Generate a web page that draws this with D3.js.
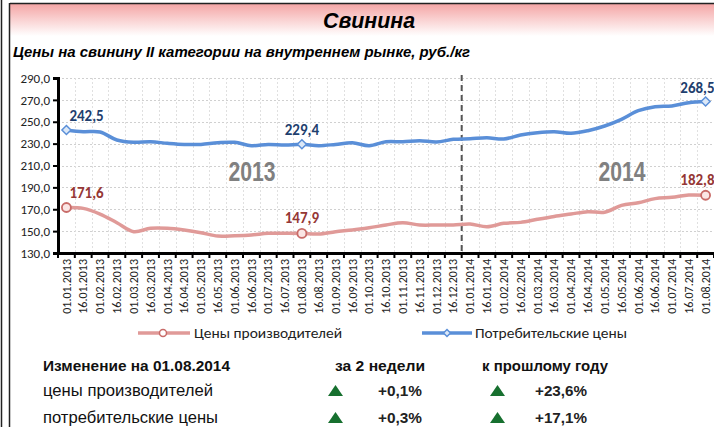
<!DOCTYPE html>
<html>
<head>
<meta charset="utf-8">
<script src="https://cdn.jsdelivr.net/npm/d3@7"></script>
<style>
  body { margin: 0; background: #fff; }
  svg { display: block; }
</style>
</head>
<body>
<div id="chart"></div>
<script>
var dates = [
  "01.01.2013", "16.01.2013", "01.02.2013", "16.02.2013", "01.03.2013", "16.03.2013",
  "01.04.2013", "16.04.2013", "01.05.2013", "16.05.2013", "01.06.2013", "16.06.2013",
  "01.07.2013", "16.07.2013", "01.08.2013", "16.08.2013", "01.09.2013", "16.09.2013",
  "01.10.2013", "16.10.2013", "01.11.2013", "16.11.2013", "01.12.2013", "16.12.2013",
  "01.01.2014", "16.01.2014", "01.02.2014", "16.02.2014", "01.03.2014", "16.03.2014",
  "01.04.2014", "16.04.2014", "01.05.2014", "16.05.2014", "01.06.2014", "16.06.2014",
  "01.07.2014", "16.07.2014", "01.08.2014"
];

// Цены производителей
var producer = [171.6, 170.8, 165.6, 157.7, 149.5, 152.6, 152.6, 151.0, 148.6, 145.5,
  145.8, 146.5, 148.0, 148.0, 147.9, 147.4, 149.5, 151.0, 153.1, 155.6,
  157.7, 155.6, 155.6, 155.6, 156.5, 154.0, 157.1, 158.0, 160.8, 163.4,
  165.6, 167.8, 167.2, 173.6, 176.0, 179.7, 180.9, 183.0, 182.8];

// Потребительские цены
var consumer = [242.5, 240.9, 240.6, 233.3, 231.2, 231.7, 230.3, 229.3, 229.3, 230.8,
  231.2, 228.1, 229.3, 228.7, 229.4, 228.1, 229.3, 230.8, 228.1, 231.7,
  231.7, 232.7, 231.5, 233.9, 234.5, 235.4, 234.2, 237.9, 240.0, 240.9,
  239.4, 241.8, 246.1, 252.2, 260.1, 263.7, 264.4, 267.4, 268.5];

var yTicks = [130, 150, 170, 190, 210, 230, 250, 270, 290];
var labelled = [0, 14, 38];   // точки с подписями
var yearLabels = [{text: "2013", at: "16.06.2013"}, {text: "2014", at: "16.05.2014"}];
var splitAfter = "16.12.2013";

var tableHead = ["Изменение на 01.08.2014", "за 2 недели", "к прошлому году"];
var tableRows = [
  {name: "цены производителей", week2: "+0,1%", year: "+23,6%"},
  {name: "потребительские цены", week2: "+0,3%", year: "+17,1%"}
];

var W = 714, H = 427;
var pLeft = 58, pRight = 714, pTop = 78, pBottom = 253;
var sans = "'Liberation Sans', Arial, sans-serif";
var calib = "Carlito, 'Open Sans', 'Noto Sans', sans-serif";

var redLine = "#e09a98", redDark = "#c86b68", redText = "#953735";
var blueLine = "#5a8fd8", blueText = "#1f3f6e";

var svg = d3.select("#chart").append("svg")
  .attr("width", W).attr("height", H);

var defs = svg.append("defs");
var grad = defs.append("linearGradient").attr("id", "hdr")
  .attr("x1", 0).attr("x2", 0).attr("y1", 0).attr("y2", 1);
grad.append("stop").attr("offset", "0%").attr("stop-color", "#f4a3a3");
grad.append("stop").attr("offset", "100%").attr("stop-color", "#ffffff");

// рамка и шапка
svg.append("rect").attr("x", 10).attr("y", 3).attr("width", W).attr("height", 33)
  .attr("fill", "url(#hdr)");
svg.append("line").attr("x1", 10).attr("x2", W).attr("y1", 3.5).attr("y2", 3.5)
  .attr("stroke", "#222").attr("stroke-width", 1.5);
svg.append("line").attr("x1", 1.5).attr("x2", 1.5).attr("y1", 0).attr("y2", H)
  .attr("stroke", "#222").attr("stroke-width", 1.5);
svg.append("line").attr("x1", 9.5).attr("x2", 9.5).attr("y1", 3).attr("y2", H)
  .attr("stroke", "#222").attr("stroke-width", 1.5);

svg.append("text").attr("x", 369).attr("y", 28)
  .attr("text-anchor", "middle")
  .style("font-family", sans).style("font-size", "22px")
  .style("font-weight", "bold").style("font-style", "italic")
  .attr("textLength", 92).attr("lengthAdjust", "spacingAndGlyphs")
  .text("Свинина");

svg.append("text").attr("x", 13).attr("y", 57)
  .style("font-family", sans).style("font-size", "15px")
  .style("font-weight", "bold").style("font-style", "italic")
  .attr("textLength", 457).attr("lengthAdjust", "spacingAndGlyphs")
  .text("Цены на свинину II категории на внутреннем рынке, руб./кг");

// шкалы
var x = d3.scaleBand().domain(dates).range([pLeft, pRight]).padding(0);
var y = d3.scaleLinear().domain([130, 290]).range([pBottom, pTop]);
var cx = function(i) { return x(dates[i]) + x.bandwidth() / 2; };

// сетка
var grid = svg.append("g");
grid.selectAll(".hg").data(yTicks.slice(1)).enter().append("line")
  .attr("x1", pLeft).attr("x2", pRight)
  .attr("y1", function(d) { return Math.round(y(d)) + 0.5; })
  .attr("y2", function(d) { return Math.round(y(d)) + 0.5; })
  .attr("stroke", "#d0d0d0").attr("stroke-dasharray", "2,2");
grid.selectAll(".vg").data(dates.slice(1)).enter().append("line")
  .attr("x1", function(d) { return Math.round(x(d)) + 0.5; })
  .attr("x2", function(d) { return Math.round(x(d)) + 0.5; })
  .attr("y1", pTop).attr("y2", pBottom)
  .attr("stroke", "#e0e0e0").attr("stroke-dasharray", "2,2");

// разделитель годов
var sx = x(splitAfter) + x.bandwidth();
svg.append("line").attr("x1", sx).attr("x2", sx).attr("y1", 75).attr("y2", pBottom)
  .attr("stroke", "#555").attr("stroke-width", 2).attr("stroke-dasharray", "6,4");

yearLabels.forEach(function(d) {
  svg.append("text").attr("x", x(d.at) + x.bandwidth() / 2 - 23).attr("y", 181)
    .style("font-family", sans).style("font-size", "28px").style("font-weight", "bold")
    .attr("textLength", 47).attr("lengthAdjust", "spacingAndGlyphs")
    .attr("fill", "#808080").text(d.text);
});

// оси
var yAxis = svg.append("g").attr("transform", "translate(" + pLeft + ",0)")
  .call(d3.axisLeft(y).tickValues(yTicks).tickSize(5)
    .tickFormat(function(d) { return d3.format(".1f")(d).replace(".", ","); }));
yAxis.select(".domain").attr("stroke", "#000").attr("stroke-width", 3);
yAxis.selectAll(".tick line").attr("stroke", "#000").attr("stroke-width", 2);
yAxis.selectAll(".tick text").attr("x", -8)
  .style("font-family", calib).style("font-size", "13px").attr("fill", "#222");

var xAxis = svg.append("g").attr("transform", "translate(0," + pBottom + ")")
  .call(d3.axisBottom(x).tickSize(0));
xAxis.select(".domain").attr("stroke", "#000").attr("stroke-width", 3);
xAxis.selectAll(".tick text")
  .attr("transform", "rotate(-90)")
  .attr("x", -6).attr("y", 0).attr("dy", "0.35em")
  .attr("text-anchor", "end")
  .style("font-family", calib).style("font-size", "12px").attr("fill", "#222");
xAxis.selectAll(".btick").data(dates.concat(["end"])).enter().append("line")
  .attr("x1", function(d, i) { return pLeft + i * x.bandwidth(); })
  .attr("x2", function(d, i) { return pLeft + i * x.bandwidth(); })
  .attr("y1", 0).attr("y2", 5)
  .attr("stroke", "#000").attr("stroke-width", 2);

// линии
var line = d3.line()
  .x(function(d, i) { return cx(i); })
  .y(function(d) { return y(d); })
  .curve(d3.curveCatmullRom.alpha(0.5));

svg.append("path").datum(producer).attr("d", line)
  .attr("fill", "none").attr("stroke", redLine).attr("stroke-width", 3.5);
svg.append("path").datum(consumer).attr("d", line)
  .attr("fill", "none").attr("stroke", blueLine).attr("stroke-width", 3.5);

function diamond(g, px, py, r) {
  g.append("path")
    .attr("d", "M" + px + "," + (py - r) + "L" + (px + r) + "," + py + "L" + px + "," + (py + r) + "L" + (px - r) + "," + py + "Z")
    .attr("fill", "#dce8f7").attr("stroke", blueLine).attr("stroke-width", 1.5);
}

labelled.forEach(function(i, k) {
  svg.append("circle").attr("cx", cx(i)).attr("cy", y(producer[i])).attr("r", 4.5)
    .attr("fill", "#fbe6e5").attr("stroke", redDark).attr("stroke-width", 1.8);
  diamond(svg, cx(i), y(consumer[i]), 4.5);

  var anchor = k === 0 ? "start" : (k === labelled.length - 1 ? "end" : "middle");
  var dx = k === 0 ? 3 : (k === labelled.length - 1 ? 9 : 0);
  svg.append("text").attr("x", cx(i) + dx).attr("y", y(producer[i]) - 10)
    .attr("text-anchor", anchor)
    .style("font-family", calib).style("font-size", "15px").style("font-weight", "bold")
    .attr("fill", redText).text(d3.format(".1f")(producer[i]).replace(".", ","));
  svg.append("text").attr("x", cx(i) + dx).attr("y", y(consumer[i]) - 9)
    .attr("text-anchor", anchor)
    .style("font-family", calib).style("font-size", "15px").style("font-weight", "bold")
    .attr("fill", blueText).text(d3.format(".1f")(consumer[i]).replace(".", ","));
});

// легенда
var leg = svg.append("g");
leg.append("line").attr("x1", 138).attr("x2", 190).attr("y1", 333).attr("y2", 333)
  .attr("stroke", redLine).attr("stroke-width", 3.5);
leg.append("circle").attr("cx", 163).attr("cy", 333).attr("r", 3.5)
  .attr("fill", "#fff").attr("stroke", redDark).attr("stroke-width", 1.5);
leg.append("text").attr("x", 194).attr("y", 338)
  .style("font-family", calib).style("font-size", "14.5px").attr("fill", "#222")
  .attr("textLength", 148).attr("lengthAdjust", "spacingAndGlyphs")
  .text("Цены производителей");
leg.append("line").attr("x1", 422).attr("x2", 472).attr("y1", 333).attr("y2", 333)
  .attr("stroke", blueLine).attr("stroke-width", 3.5);
diamond(leg, 447, 333, 3.5);
leg.append("text").attr("x", 475).attr("y", 338)
  .style("font-family", calib).style("font-size", "14.5px").attr("fill", "#222")
  .attr("textLength", 152).attr("lengthAdjust", "spacingAndGlyphs")
  .text("Потребительские цены");

// таблица изменений
var headX = [43, 335, 482];
var headW = [187, 90, 126];
tableHead.forEach(function(t, i) {
  svg.append("text").attr("x", headX[i]).attr("y", 371)
    .style("font-family", sans).style("font-size", "15px").style("font-weight", "bold")
    .attr("textLength", headW[i]).attr("lengthAdjust", "spacingAndGlyphs")
    .attr("fill", "#111").text(t);
});

var rowY = [396, 423];
var rowW = [170, 175];
tableRows.forEach(function(r, i) {
  var yy = rowY[i];
  svg.append("text").attr("x", 43).attr("y", yy)
    .style("font-family", sans).style("font-size", "16px").attr("fill", "#111")
    .attr("textLength", rowW[i]).attr("lengthAdjust", "spacingAndGlyphs")
    .text(r.name);
  [335.5, 497.5].forEach(function(tx) {
    svg.append("path")
      .attr("d", "M" + tx + "," + (yy - 11) + "L" + (tx + 7.5) + "," + yy + "L" + (tx - 7.5) + "," + yy + "Z")
      .attr("fill", "#17702f");
  });
  svg.append("text").attr("x", 378).attr("y", yy)
    .style("font-family", sans).style("font-size", "15px").style("font-weight", "bold")
    .attr("textLength", 44).attr("lengthAdjust", "spacingAndGlyphs")
    .attr("fill", "#222").text(r.week2);
  svg.append("text").attr("x", 535).attr("y", yy)
    .style("font-family", sans).style("font-size", "15px").style("font-weight", "bold")
    .attr("textLength", 52).attr("lengthAdjust", "spacingAndGlyphs")
    .attr("fill", "#222").text(r.year);
});
</script>
</body>
</html>
